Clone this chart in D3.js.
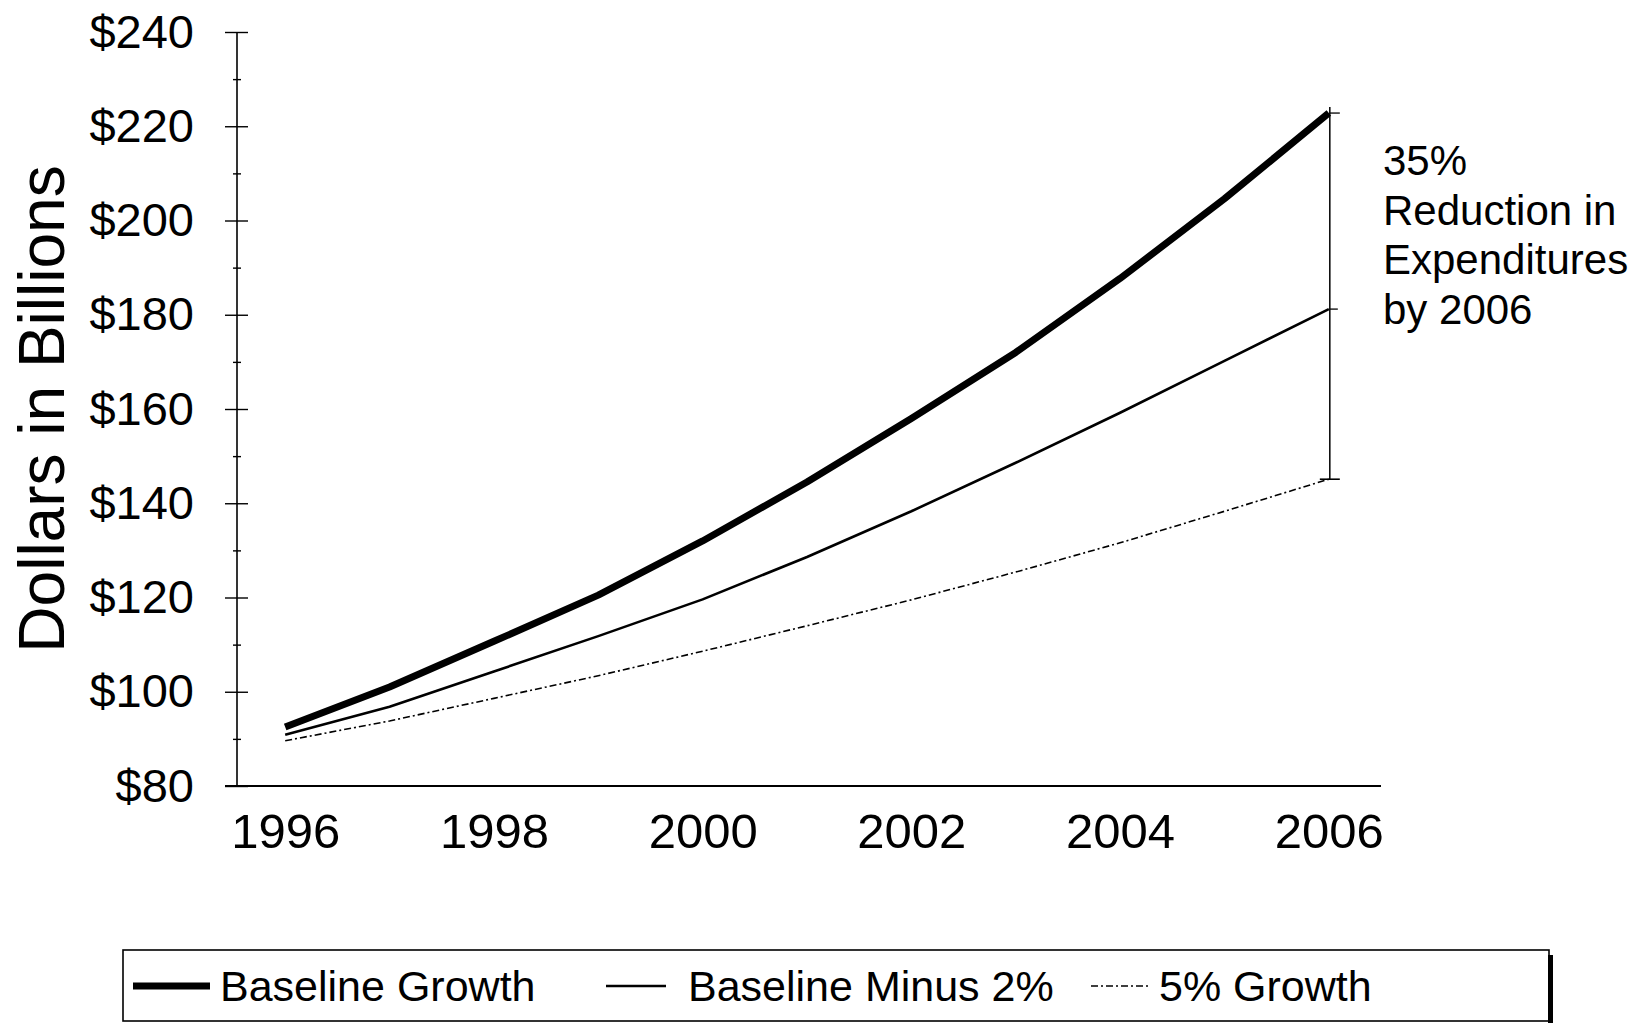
<!DOCTYPE html>
<html>
<head>
<meta charset="utf-8">
<script src="https://cdn.jsdelivr.net/npm/d3@7"></script>
<style>
  html, body { margin: 0; padding: 0; background: #fff; }
  svg { display: block; font-family: "Liberation Sans", Arial, sans-serif; }
</style>
</head>
<body>
<svg id="chart" width="1643" height="1023"></svg>
<script>
// ---- data ----
const years = [1996, 1997, 1998, 1999, 2000, 2001, 2002, 2003, 2004, 2005, 2006];
const baselineGrowth = [92.5, 101.0, 110.7, 120.5, 132.0, 144.5, 158.0, 172.0, 187.7, 204.6, 222.8];
const baselineMinus2 = [90.9, 96.8, 104.3, 111.8, 119.6, 128.6, 138.3, 148.6, 159.2, 170.2, 181.2];
const growth5 = [89.6, 93.8, 98.6, 103.4, 108.6, 114.0, 119.5, 125.4, 131.6, 138.3, 145.1];
const seriesNames = ["Baseline Growth", "Baseline Minus 2%", "5% Growth"];
const yTicks = [80, 100, 120, 140, 160, 180, 200, 220, 240];
const yMinorTicks = [90, 110, 130, 150, 170, 190, 210, 230];
const xTicks = [1996, 1998, 2000, 2002, 2004, 2006];
const yTitle = "Dollars in Billions";
const noteLines = ["35%", "Reduction in", "Expenditures", "by 2006"];

// ---- scales ----
const svg = d3.select("#chart");
const x = d3.scaleLinear().domain([1995.5, 2006.5]).range([233, 1381]);
const y = d3.scaleLinear().domain([80, 240]).range([786, 32]);
const axisX = 237;

svg.append("rect").attr("width", 1643).attr("height", 1023).attr("fill", "#fff");

// ---- y axis ----
const gy = svg.append("g").attr("transform", `translate(${axisX},0)`);
gy.call(d3.axisLeft(y).tickValues(yTicks).tickSize(12).tickPadding(31)
  .tickFormat(d => "$" + d));
gy.select(".domain").remove();
gy.append("line").attr("x1", 0).attr("x2", 0).attr("y1", y(240)).attr("y2", y(80))
  .attr("stroke", "#000").attr("stroke-width", 1.6);
gy.selectAll(".tick line").attr("stroke-width", 1.4);
gy.selectAll(".tick text").attr("font-size", 47).attr("fill", "#000")
  .attr("font-family", "'Liberation Sans', Arial, sans-serif");
// right half of major ticks
const gyr = svg.append("g").attr("transform", `translate(${axisX},0)`);
gyr.call(d3.axisRight(y).tickValues(yTicks).tickSize(11).tickFormat(""));
gyr.select(".domain").remove();
gyr.selectAll(".tick line").attr("stroke-width", 1.4);
// minor ticks
const gym = svg.append("g").attr("transform", `translate(${axisX},0)`);
gym.call(d3.axisRight(y).tickValues(yMinorTicks).tickSizeInner(4).tickSizeOuter(0).tickFormat(""));
gym.select(".domain").remove();
gym.selectAll(".tick line").attr("x1", -4).attr("stroke-width", 1.4);

// ---- x axis ----
const gx = svg.append("g").attr("transform", `translate(0,${y(80)})`);
gx.call(d3.axisBottom(x).tickValues(xTicks).tickSize(0).tickPadding(27).tickFormat(d3.format("d")));
gx.select(".domain").remove();
gx.append("line").attr("x1", 225).attr("x2", x(2006.5)).attr("y1", 0).attr("y2", 0)
  .attr("stroke", "#000").attr("stroke-width", 1.8);
gx.selectAll(".tick text").attr("font-size", 49).attr("fill", "#000")
  .attr("font-family", "'Liberation Sans', Arial, sans-serif");

// ---- y title ----
svg.append("text")
  .attr("transform", `translate(64,409) rotate(-90)`)
  .attr("text-anchor", "middle")
  .attr("font-size", 64)
  .attr("fill", "#000")
  .text(yTitle);

// ---- series ----
const series = [
  { name: seriesNames[0], values: baselineGrowth, width: 7, dash: null },
  { name: seriesNames[1], values: baselineMinus2, width: 2.6, dash: null },
  { name: seriesNames[2], values: growth5, width: 1.6, dash: "7,3,2,3" }
];
const line = d3.line().x((d, i) => x(years[i])).y(d => y(d));
svg.append("g").selectAll("path").data(series).join("path")
  .attr("d", d => line(d.values))
  .attr("fill", "none")
  .attr("stroke", "#000")
  .attr("stroke-width", d => d.width)
  .attr("stroke-dasharray", d => d.dash)
  .attr("stroke-linejoin", "round");

// ---- bracket ----
const last = years.length - 1;
const bx = x(years[last]) + 1;
const topV = baselineGrowth[last], midV = baselineMinus2[last], botV = growth5[last];
svg.append("line").attr("x1", bx).attr("x2", bx)
  .attr("y1", y(topV) - 6).attr("y2", y(botV))
  .attr("stroke", "#000").attr("stroke-width", 1.5);
svg.append("line").attr("x1", bx).attr("x2", bx + 10)
  .attr("y1", y(topV)).attr("y2", y(topV)).attr("stroke", "#000").attr("stroke-width", 1.3);
svg.append("line").attr("x1", bx).attr("x2", bx + 8)
  .attr("y1", y(midV)).attr("y2", y(midV)).attr("stroke", "#000").attr("stroke-width", 1.3);
svg.append("line").attr("x1", bx - 10).attr("x2", bx + 10)
  .attr("y1", y(botV)).attr("y2", y(botV)).attr("stroke", "#000").attr("stroke-width", 1.6);

// ---- note ----
const note = svg.append("text").attr("font-size", 42).attr("fill", "#000");
noteLines.forEach((t, i) => {
  note.append("tspan").attr("x", 1383).attr("y", 175 + i * 49.5).text(t);
});

// ---- legend ----
const lg = svg.append("g");
lg.append("rect").attr("x", 123).attr("y", 950).attr("width", 1426).attr("height", 71)
  .attr("fill", "none").attr("stroke", "#000").attr("stroke-width", 1.6);
lg.append("rect").attr("x", 1548).attr("y", 955).attr("width", 5).attr("height", 68).attr("fill", "#000");
const legendItems = [
  { s: series[0], x1: 133, x2: 210, tx: 220 },
  { s: series[1], x1: 606, x2: 666, tx: 688 },
  { s: series[2], x1: 1091, x2: 1149, tx: 1159 }
];
legendItems.forEach(it => {
  lg.append("line").attr("x1", it.x1).attr("x2", it.x2).attr("y1", 986).attr("y2", 986)
    .attr("stroke", "#000").attr("stroke-width", it.s.width)
    .attr("stroke-dasharray", it.s.dash);
  lg.append("text").attr("x", it.tx).attr("y", 1001).attr("font-size", 43)
    .attr("fill", "#000").text(it.s.name);
});
</script>
</body>
</html>
